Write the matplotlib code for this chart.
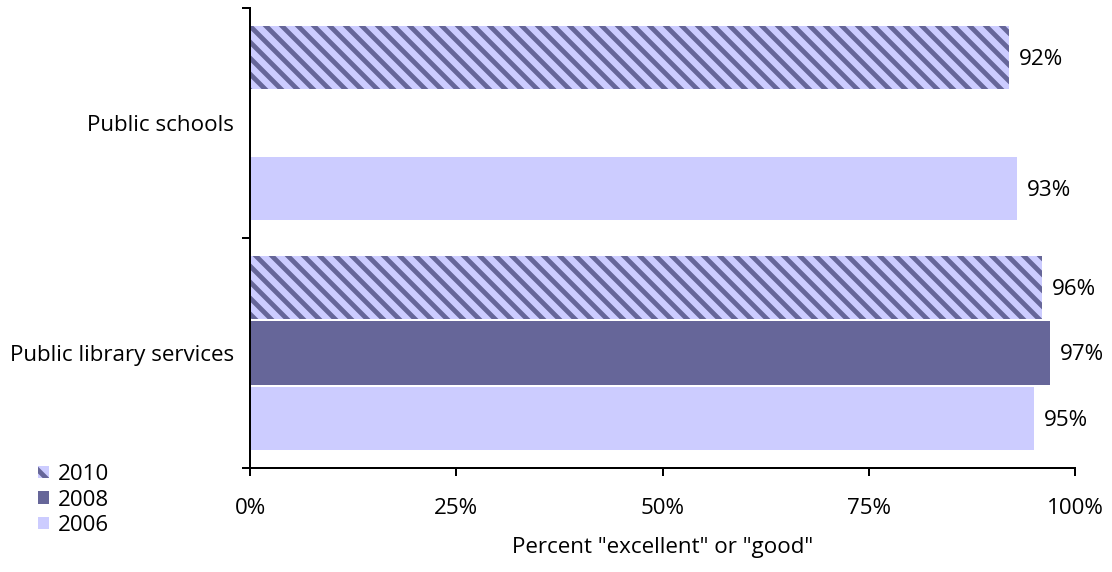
"""
satisfaction with public services, horizontal grouped bars
"""
import matplotlib
matplotlib.use("Agg")
import matplotlib.pyplot as plt
from matplotlib.patches import Patch

# data
categories = ["Public library services", "Public schools"]
years = ["2010", "2008", "2006"]
values = {
    "2010": [96, 92],
    "2008": [97, None],
    "2006": [95, 93],
}

DARK = "#666699"
LIGHT = "#ccccff"
DPI = 144
FS = 11.2

plt.rcParams["font.family"] = ["Open Sans", "DejaVu Sans"]
plt.rcParams["hatch.linewidth"] = 2.4

fig = plt.figure(figsize=(1112 / DPI, 572 / DPI), dpi=DPI)
ax = fig.add_axes([250 / 1112, 1 - 468 / 572, 825 / 1112, 460 / 572])

offsets = {"2010": 0.285, "2008": 0.0, "2006": -0.285}
bar_h = 0.275
for yr in years:
    for i, v in enumerate(values[yr]):
        if v is None:
            continue
        y = i + offsets[yr]
        if yr == "2010":
            ax.barh(y, v, height=bar_h, color=LIGHT, edgecolor=DARK,
                    linewidth=0, hatch="\\\\\\")
        elif yr == "2008":
            ax.barh(y, v, height=bar_h, color=DARK, linewidth=0)
        else:
            ax.barh(y, v, height=bar_h, color=LIGHT, linewidth=0)
        ax.annotate(f"{v}%", (v, y), xytext=(5, -1), textcoords="offset points",
                    va="center", ha="left", fontsize=FS)

ax.set_xlim(0, 100)
ax.set_ylim(-0.5, 1.5)
ax.set_xticks([0, 25, 50, 75, 100])
ax.set_xticklabels(["0%", "25%", "50%", "75%", "100%"], fontsize=FS)
ax.set_yticks([-0.5, 0.5, 1.5])
ax.set_yticklabels([])
ax.set_yticks([0, 1], minor=True)
ax.set_yticklabels(categories, minor=True, fontsize=FS)
ax.tick_params(axis="y", which="major", length=4, width=1, direction="out")
ax.tick_params(axis="y", which="minor", length=0, pad=8)
ax.tick_params(axis="x", length=4, width=1, direction="out", pad=11)

for s in ["top", "right"]:
    ax.spines[s].set_visible(False)
for s in ["left", "bottom"]:
    ax.spines[s].set_linewidth(1.0)

ax.set_xlabel('Percent "excellent" or "good"', fontsize=FS, labelpad=9)

handles = [
    Patch(facecolor=LIGHT, edgecolor=DARK, linewidth=0, hatch="\\"),
    Patch(facecolor=DARK, linewidth=0),
    Patch(facecolor=LIGHT, linewidth=0),
]
fig.legend(handles, years, loc="lower left", bbox_to_anchor=(38 / 1112, 36 / 572),
           frameon=False, fontsize=FS, handlelength=0.5, handleheight=0.5,
           handletextpad=0.4, labelspacing=0.2, borderpad=0, borderaxespad=0)

fig.savefig("out.png", dpi=DPI)
